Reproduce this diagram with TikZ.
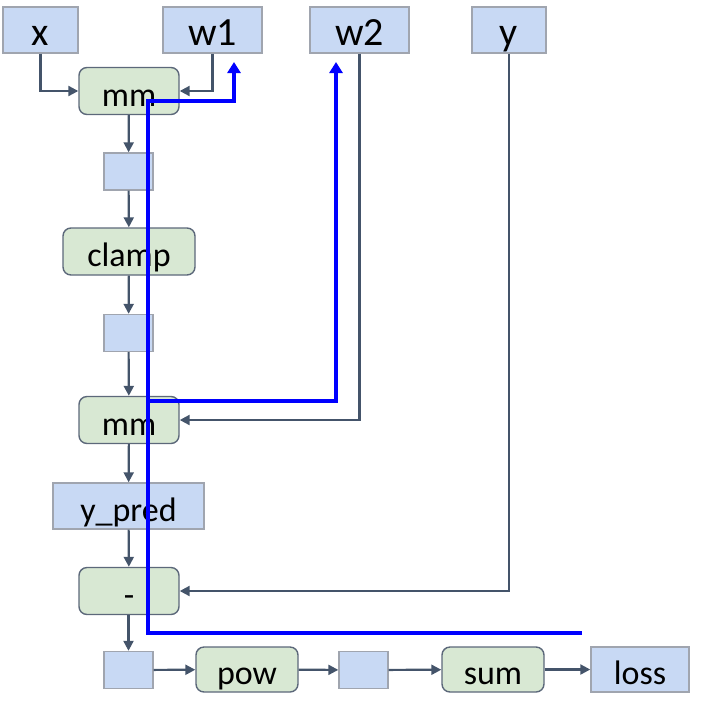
\documentclass[tikz,border=0pt]{standalone}
\usepackage{fontspec}
\setmainfont{Carlito}
\usetikzlibrary{arrows.meta}

\definecolor{tensorfill}{RGB}{200,217,244}
\definecolor{tensorline}{RGB}{160,165,175}
\definecolor{opfill}{RGB}{216,232,211}
\definecolor{opline}{RGB}{92,104,122}
\definecolor{flowcol}{RGB}{68,84,106}

\begin{document}
\begin{tikzpicture}[
    x=1pt, y=-1pt,
    lbl/.style={font=\fontsize{34}{40}\selectfont, text height=30pt, text depth=0pt, inner sep=0pt},
    tensor/.style={lbl, rectangle, draw=tensorline, fill=tensorfill, line width=1.4pt},
    input/.style={tensor, font=\fontsize{40}{46}\selectfont, minimum height=46pt},
    small/.style={tensor, minimum width=49pt, minimum height=37pt},
    op/.style={lbl, rectangle, draw=opline, fill=opfill, rounded corners=8pt, line width=1.4pt, minimum width=100pt, minimum height=47pt},
    flow/.style={-{Triangle[length=10pt, width=10pt]}, draw=flowcol, line width=2.2pt},
    grad/.style={-{Triangle[length=11pt, width=13pt]}, draw=blue, line width=4pt},
]
\useasboundingbox (0,0) rectangle (709,705);

% inputs
\node[input, minimum width=75pt] (x) at (40.5,30) {x};
\node[input, minimum width=99pt] (w1) at (212.5,30) {w1};
\node[input, minimum width=99pt] (w2) at (359.5,30) {w2};
\node[input, minimum width=74pt] (y) at (509,30) {y};

% forward chain
\node[op] (mm1) at (129,91) {mm};
\node[small] (h1) at (128.5,171.5) {};
\node[op, minimum width=132pt] (clamp) at (129,251.5) {clamp};
\node[small] (h2) at (128.5,333) {};
\node[op] (mm2) at (129,420) {mm};
\node[tensor, minimum width=151pt, minimum height=46pt] (ypred) at (128.5,506) {y\_pred};
\node[op] (minus) at (129,591) {-};

% loss row
\node[small] (h3) at (128.5,670) {};
\node[op, minimum width=102pt, minimum height=45pt] (pow) at (247,669.5) {pow};
\node[small] (h4) at (363.5,670) {};
\node[op, minimum width=102pt, minimum height=45pt] (sum) at (493,669.5) {sum};
\node[tensor, minimum width=98pt, minimum height=45pt] (loss) at (640,669.5) {loss};

% arrows
\draw[flow] (x.south) |- (mm1.west);
\draw[flow] (w1.south) |- (mm1.east);
\draw[flow] (w2.south) |- (mm2.east);
\draw[flow] (y.south) |- (minus.east);
\draw[flow] (mm1) -- (h1);
\draw[flow] (h1) -- (clamp);
\draw[flow] (clamp) -- (h2);
\draw[flow] (h2) -- (mm2);
\draw[flow] (mm2) -- (ypred);
\draw[flow] (ypred) -- (minus);
\draw[flow] (minus.south -| h3) -- (h3);
\draw[flow] (h3) -- (pow);
\draw[flow] (pow) -- (h4);
\draw[flow] (h4) -- (sum);
\draw[flow] (sum) -- (loss);

% backward pass
\coordinate (gradin) at (582,633);
\coordinate (trunk) at (148,101);
\coordinate (tap) at (148,401);
\coordinate (gw1) at (234,62);
\coordinate (gw2) at (336,62);
\draw[grad] (gradin) -| (trunk) -| (gw1);
\draw[grad] (tap) -| (gw2);

\end{tikzpicture}
\end{document}
